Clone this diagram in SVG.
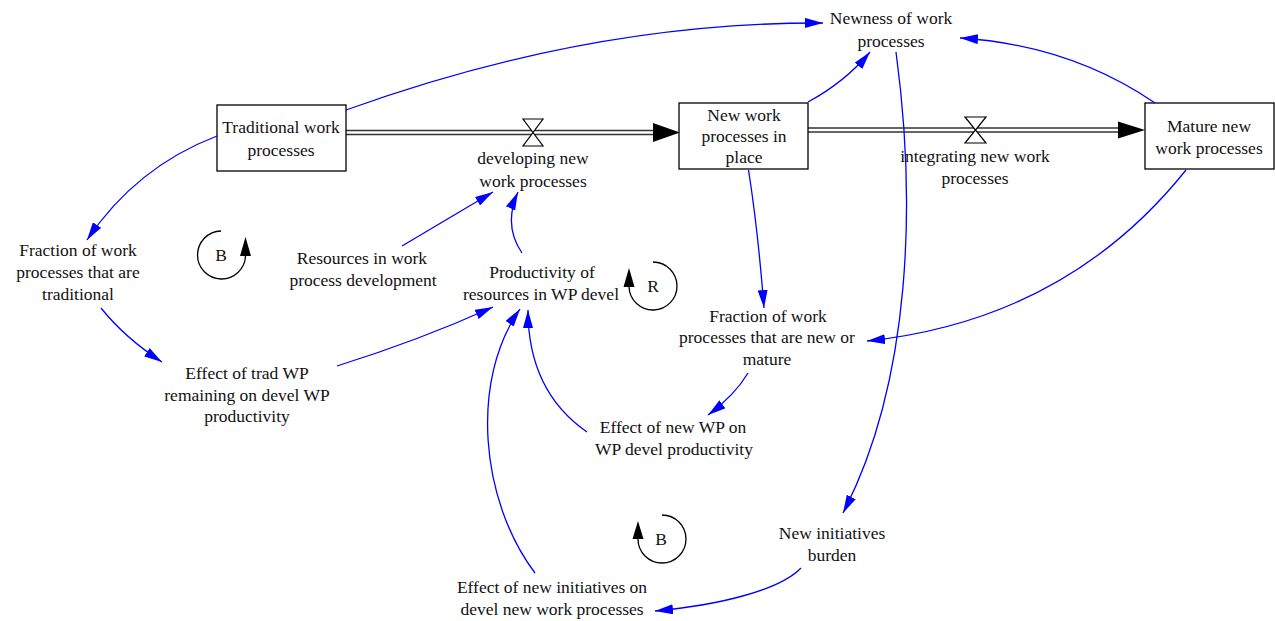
<svg xmlns="http://www.w3.org/2000/svg" width="1275" height="621" viewBox="0 0 1275 621">
  <style>
    text { font-family: "Liberation Serif", "Times New Roman", serif; font-size: 17.5px; fill: #111; text-anchor: middle; }
    .stock { fill: #fff; stroke: #000; stroke-width: 1.3; }
    .link { fill: none; stroke: #0000ff; stroke-width: 1.3; marker-end: url(#arr); }
    .pipeOuter { stroke: #333; stroke-width: 5.5; fill: none; }
    .pipeInner { stroke: #fff; stroke-width: 2.5; fill: none; }
    .valve { fill: #fff; stroke: #000; stroke-width: 1.2; }
    .loop { fill: none; stroke: #000; stroke-width: 1.3; }
  </style>
  <defs>
    <marker id="arr" viewBox="0 0 18 10" refX="18" refY="5" markerWidth="18" markerHeight="10" markerUnits="userSpaceOnUse" orient="auto">
      <path d="M0,0 L18,5 L0,10 z" fill="#0000ff"/>
    </marker>
  </defs>

  <rect width="1275" height="621" fill="#fff"/>

  <!-- material flows -->
  <g id="flows">
    <line class="pipeOuter" x1="346" y1="132.5" x2="656" y2="132.5"/>
    <line class="pipeInner" x1="346" y1="132.5" x2="656" y2="132.5"/>
    <polygon points="653,123 680,132.5 653,142" fill="#000"/>
    <line class="pipeOuter" x1="808" y1="130" x2="1120" y2="130"/>
    <line class="pipeInner" x1="808" y1="130" x2="1120" y2="130"/>
    <polygon points="1118,121.5 1145,130 1118,138.5" fill="#000"/>
  </g>

  <g id="developing">
    <polygon class="valve" points="523,119 543,119 533,132.5 543,146 523,146 533,132.5"/>
    <text x="533" y="164">developing new</text>
    <text x="533" y="187">work processes</text>
  </g>

  <g id="integrating">
    <polygon class="valve" points="965,117 986,117 975.5,130 986,143 965,143 975.5,130"/>
    <text x="975" y="162">integrating new work</text>
    <text x="975" y="184">processes</text>
  </g>

  <!-- stocks -->
  <g id="traditional">
    <rect class="stock" x="217" y="105" width="129" height="66"/>
    <text x="281" y="133">Traditional work</text>
    <text x="281" y="156">processes</text>
  </g>

  <g id="newwp">
    <rect class="stock" x="679" y="103" width="129" height="66"/>
    <text x="744" y="121">New work</text>
    <text x="744" y="142">processes in</text>
    <text x="744" y="163">place</text>
  </g>

  <g id="mature">
    <rect class="stock" x="1145" y="103" width="129" height="66"/>
    <text x="1209" y="132">Mature new</text>
    <text x="1209" y="154">work processes</text>
  </g>

  <!-- auxiliaries -->
  <g id="newness">
    <text x="891" y="24">Newness of work</text>
    <text x="891" y="47">processes</text>
  </g>

  <g id="fracTrad">
    <text x="78" y="256">Fraction of work</text>
    <text x="78" y="278">processes that are</text>
    <text x="78" y="300">traditional</text>
  </g>

  <g id="resources">
    <text x="362" y="264">Resources in work</text>
    <text x="363" y="286">process development</text>
  </g>

  <g id="productivity">
    <text x="542" y="278">Productivity of</text>
    <text x="541" y="300">resources in WP devel</text>
  </g>

  <g id="effTrad">
    <text x="247" y="379">Effect of trad WP</text>
    <text x="247" y="401">remaining on devel WP</text>
    <text x="247" y="422">productivity</text>
  </g>

  <g id="fracNew">
    <text x="768" y="322">Fraction of work</text>
    <text x="767" y="343">processes that are new or</text>
    <text x="767" y="365">mature</text>
  </g>

  <g id="effNew">
    <text x="673" y="433">Effect of new WP on</text>
    <text x="674" y="455">WP devel productivity</text>
  </g>

  <g id="burden">
    <text x="832" y="539">New initiatives</text>
    <text x="832" y="561">burden</text>
  </g>

  <g id="effInit">
    <text x="552" y="593">Effect of new initiatives on</text>
    <text x="552" y="615">devel new work processes</text>
  </g>

  <!-- loop markers -->
  <g id="loopB1">
    <path class="loop" d="M221,231 A24,24 0 1 0 245.5,256"/>
    <polygon points="245.5,237 240,256 251,256" fill="#000"/>
    <text x="221" y="261">B</text>
  </g>
  <g id="loopR">
    <path class="loop" d="M653,262 A24,24 0 1 1 629,287"/>
    <polygon points="629,268 623.5,287 634.5,287" fill="#000"/>
    <text x="653" y="292">R</text>
  </g>
  <g id="loopB2">
    <path class="loop" d="M662,515 A24,24 0 1 1 638,539"/>
    <polygon points="638,521 632.5,539 643.5,539" fill="#000"/>
    <text x="661" y="545">B</text>
  </g>

  <!-- causal links -->
  <g id="connectors">
    <path class="link" d="M346,110 Q590,22 823,23"/>
    <path class="link" d="M217,136 Q136,167 87,240"/>
    <path class="link" d="M101,308 Q125,338 162,362"/>
    <path class="link" d="M337,366 Q420,340 493,307"/>
    <path class="link" d="M402,246 L493,192"/>
    <path class="link" d="M522,253 Q503,225 518,192"/>
    <path class="link" d="M808,102 Q845,82 870,52"/>
    <path class="link" d="M1155,103 Q1070,45 960,38"/>
    <path class="link" d="M896,52 C916,200 912,380 843,513"/>
    <path class="link" d="M748.5,170 Q758,230 764,308"/>
    <path class="link" d="M1186,170 Q1066,320 867,341"/>
    <path class="link" d="M748,373 Q735,395 708,415"/>
    <path class="link" d="M587,432 Q528,391 528,310"/>
    <path class="link" d="M535,573 C480,500 470,380 520,309"/>
    <path class="link" d="M801,568 C780,590 720,605 655,611"/>
  </g>
</svg>
